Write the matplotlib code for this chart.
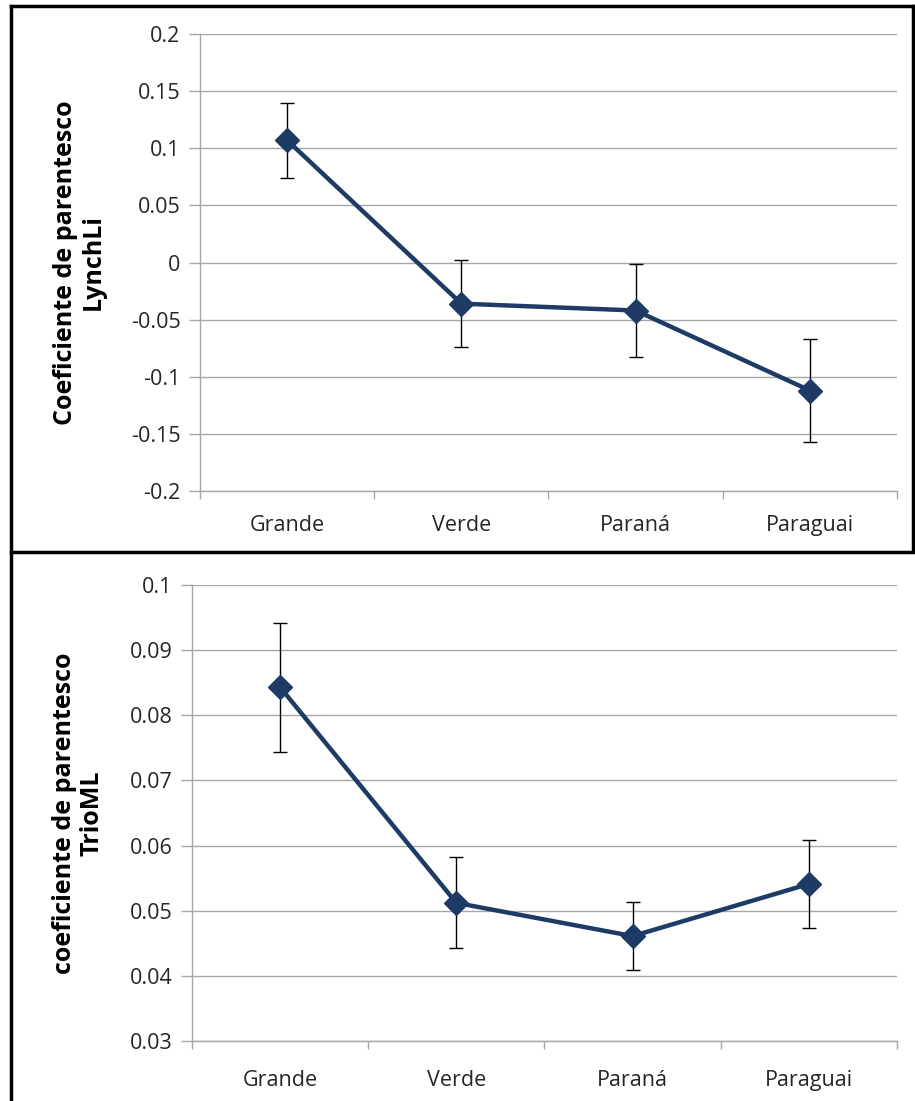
import matplotlib.pyplot as plt
from matplotlib.lines import Line2D

plt.rcParams['font.family'] = ['Open Sans', 'DejaVu Sans']

rios = ['Grande', 'Verde', 'Paraná', 'Paraguai']

lynch = [0.107, -0.036, -0.042, -0.112]
lynch_err = [0.033, 0.038, 0.041, 0.045]

trio = [0.0843, 0.0512, 0.0461, 0.0541]
trio_err = [0.0099, 0.0070, 0.0052, 0.0068]

azul = '#1d3b65'
cinza = '#a6a6a6'

fig = plt.figure(figsize=(9.15, 11.01), dpi=100)


def painel(pos, y, err, ylim, yticks, fmt, ylabel, xpad):
    ax = fig.add_axes(pos)
    x = range(len(rios))
    ax.errorbar(x, y, yerr=err, fmt='none', ecolor='black', elinewidth=1,
                capsize=5, capthick=1, zorder=2)
    ax.plot(x, y, color=azul, lw=3.2, marker='D', ms=12, mfc=azul, mec=azul,
            zorder=3)
    ax.set_xlim(-0.5, len(rios) - 0.5)
    ax.set_ylim(*ylim)
    ax.set_yticks(yticks)
    ax.set_yticklabels([fmt(v) for v in yticks])
    ax.set_xticks(list(x))
    ax.set_xticklabels(rios)
    ax.set_xticks([i - 0.5 for i in range(len(rios) + 1)], minor=True)
    ax.tick_params(axis='x', which='major', length=0, pad=xpad, labelsize=15.5,
                   labelcolor='#262626')
    ax.tick_params(axis='x', which='minor', length=6, color=cinza, width=1)
    ax.tick_params(axis='y', length=8, color=cinza, width=1, pad=6,
                   labelsize=15.5, labelcolor='#262626')
    ax.grid(axis='y', color=cinza, lw=1)
    ax.set_axisbelow(True)
    for s in ['top', 'right']:
        ax.spines[s].set_visible(False)
    for s in ['left', 'bottom']:
        ax.spines[s].set_color(cinza)
        ax.spines[s].set_linewidth(1)
    ax.set_ylabel(ylabel, fontsize=18, fontweight='bold', labelpad=18,
                  linespacing=1.15)
    return ax


def fmt_top(v):
    s = ('%.2f' % v).rstrip('0').rstrip('.')
    return '0' if s in ('-0', '0') else s


def fmt_bot(v):
    s = ('%.2f' % v).rstrip('0').rstrip('.')
    return s


painel([0.2186, 0.554, 0.7617, 0.4151], lynch, lynch_err, (-0.2, 0.2),
       [-0.2, -0.15, -0.1, -0.05, 0, 0.05, 0.1, 0.15, 0.2], fmt_top,
       'Coeficiente de parentesco\nLynchLi', 17)

painel([0.2098, 0.0545, 0.7705, 0.4142], trio, trio_err, (0.03, 0.1),
       [0.03, 0.04, 0.05, 0.06, 0.07, 0.08, 0.09, 0.1], fmt_bot,
       'coeficiente de parentesco\nTrioML', 21)

# moldura dos painéis
W, H = 915, 1101
borda = dict(color='black', lw=2.5, transform=fig.transFigure)
fig.add_artist(Line2D([11 / W, 11 / W], [0, 1 - 6 / H], **borda))
fig.add_artist(Line2D([11 / W, 913 / W], [1 - 6 / H, 1 - 6 / H], **borda))
fig.add_artist(Line2D([913 / W, 913 / W], [1 - 551 / H, 1 - 6 / H], **borda))
fig.add_artist(Line2D([11 / W, 1], [1 - 552 / H, 1 - 552 / H], **borda))

fig.savefig('out.png', dpi=100)
